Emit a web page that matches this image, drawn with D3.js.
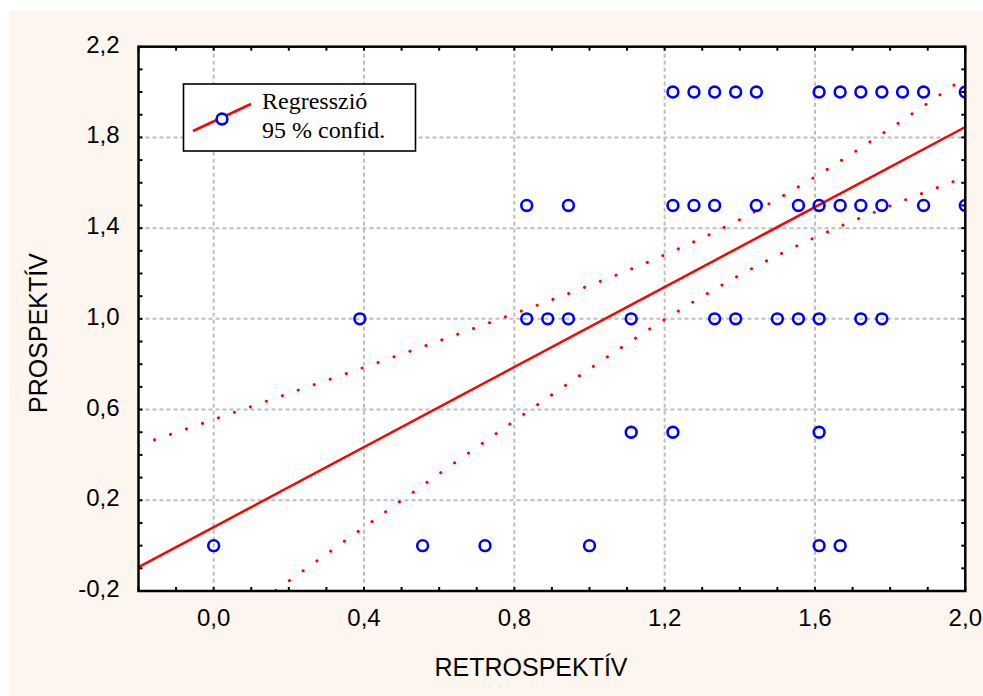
<!DOCTYPE html>
<meta charset="utf-8">

<!-- Load d3.js -->
<script src="https://d3js.org/d3.v7.min.js"></script>

<style>
  body { margin: 0; background: #ffffff; }
</style>

<!-- Create a div where the graph will take place -->
<div id="scatter"></div>

<script>

// points, one row per PROSPEKTÍV value (RETROSPEKTÍV values)
var row20 = [1.222, 1.278, 1.333, 1.389, 1.444, 1.611, 1.667, 1.722, 1.778, 1.833, 1.889, 2.0];
var row15 = [0.833, 0.944, 1.222, 1.278, 1.333, 1.444, 1.556, 1.611, 1.667, 1.722, 1.778, 1.889, 2.0];
var row10 = [0.389, 0.833, 0.889, 0.944, 1.111, 1.333, 1.389, 1.5, 1.556, 1.611, 1.722, 1.778];
var row05 = [1.111, 1.222, 1.611];
var row00 = [0.0, 0.556, 0.722, 1.0, 1.611, 1.667];
var rowValues = [2.0, 1.5, 1.0, 0.5, 0.0];
var rows = [row20, row15, row10, row05, row00];

// regression line and 95 % band
var regX = [-0.2, 2.0];
var regY = [-0.095, 1.846];
var bandX = [-0.2, 0.0, 0.2, 0.4, 0.6, 0.8, 1.0, 1.2, 1.4, 1.6, 1.8, 2.0];
var bandUpper = [0.442, 0.556, 0.671, 0.786, 0.903, 1.023, 1.147, 1.282, 1.438, 1.626, 1.839, 2.065];
var bandLower = [-0.633, -0.394, -0.156, 0.081, 0.317, 0.550, 0.779, 0.997, 1.193, 1.359, 1.498, 1.625];

// axes
var xTicks = [0.0, 0.4, 0.8, 1.2, 1.6, 2.0];
var yTicks = [-0.2, 0.2, 0.6, 1.0, 1.4, 1.8, 2.2];
var legendLabels = ["Regresszió", "95 % confid."];

var fmt = function(d) { return d3.format(".1f")(d).replace(".", ",").replace("−", "-"); };

var W = 983, H = 696;
var margin = {top: 46.7, right: 18, bottom: 105, left: 138.5},
    width = 965.3 - margin.left,
    height = 591 - margin.top;

var svgRoot = d3.select("#scatter")
  .append("svg")
    .attr("width", W)
    .attr("height", H);

// cream page
svgRoot.append("rect")
  .attr("x", 9).attr("y", 11)
  .attr("width", W - 9).attr("height", H - 11)
  .attr("fill", "#fdf6ef");

var svg = svgRoot.append("g")
  .attr("transform", "translate(" + margin.left + "," + margin.top + ")");

var x = d3.scaleLinear().domain([-0.2, 2.0]).range([0, width]);
var y = d3.scaleLinear().domain([-0.2, 2.2]).range([height, 0]);

svg.append("rect")
  .attr("width", width).attr("height", height)
  .attr("fill", "#ffffff");

svg.append("clipPath").attr("id", "plotclip")
  .append("rect").attr("width", width).attr("height", height);

// grid
var grid = svg.append("g")
  .attr("stroke", "#bebebe")
  .attr("stroke-width", 2)
  .attr("stroke-dasharray", "4,3");
grid.selectAll(".gx")
  .data(xTicks.filter(function(d) { return d > -0.2 && d < 2.0; }))
  .enter().append("line")
    .attr("x1", function(d) { return x(d); })
    .attr("x2", function(d) { return x(d); })
    .attr("y1", 0).attr("y2", height);
grid.selectAll(".gy")
  .data(yTicks.filter(function(d) { return d > -0.2 && d < 2.2; }))
  .enter().append("line")
    .attr("y1", function(d) { return y(d); })
    .attr("y2", function(d) { return y(d); })
    .attr("x1", 0).attr("x2", width);

var plot = svg.append("g").attr("clip-path", "url(#plotclip)");

// confidence band
var bandLine = d3.line().curve(d3.curveMonotoneX)
  .x(function(d) { return x(d[0]); })
  .y(function(d) { return y(d[1]); });

[bandUpper, bandLower].forEach(function(b) {
  plot.append("path")
    .datum(bandX.map(function(v, i) { return [v, b[i]]; }))
    .attr("d", bandLine)
    .attr("fill", "none")
    .attr("stroke", "#ff0000")
    .attr("stroke-width", 3)
    .attr("stroke-linecap", "round")
    .attr("stroke-dasharray", "0.1,16.8");
});

// regression line
plot.append("line")
  .attr("x1", x(regX[0])).attr("y1", y(regY[0]))
  .attr("x2", x(regX[1])).attr("y2", y(regY[1]))
  .attr("stroke", "#ff0000")
  .attr("stroke-width", 2.5);

// points
var pts = [];
rows.forEach(function(r, i) {
  r.forEach(function(v) { pts.push({rx: v, py: rowValues[i]}); });
});
plot.selectAll("circle")
  .data(pts)
  .enter().append("circle")
    .attr("cx", function(d) { return x(d.rx); })
    .attr("cy", function(d) { return y(d.py); })
    .attr("r", 5.4)
    .attr("fill", "none")
    .attr("stroke", "#0000ff")
    .attr("stroke-width", 2.6);

// inward ticks on all four sides, every 0.1
var xMinor = d3.range(-2, 21).map(function(i) { return i / 10; });
var yMinor = d3.range(-2, 23).map(function(i) { return i / 10; });
var ticks = svg.append("g").attr("stroke", "#000").attr("stroke-width", 2);
[[0, 4], [height, height - 4]].forEach(function(p) {
  ticks.selectAll(null).data(xMinor).enter().append("line")
    .attr("x1", function(d) { return x(d); }).attr("x2", function(d) { return x(d); })
    .attr("y1", p[0]).attr("y2", p[1]);
});
[[0, 4], [width, width - 4]].forEach(function(p) {
  ticks.selectAll(null).data(yMinor).enter().append("line")
    .attr("y1", function(d) { return y(d); }).attr("y2", function(d) { return y(d); })
    .attr("x1", p[0]).attr("x2", p[1]);
});

// frame
svg.append("rect")
  .attr("width", width).attr("height", height)
  .attr("fill", "none")
  .attr("stroke", "#000")
  .attr("stroke-width", 2.5);

// tick labels
var lab = svg.append("g")
  .attr("font-family", "'Liberation Sans', Arial, sans-serif")
  .attr("font-size", 24)
  .attr("fill", "#000");
lab.selectAll(".xl").data(xTicks).enter().append("text")
  .attr("x", function(d) { return x(d); })
  .attr("y", height + 35)
  .attr("text-anchor", "middle")
  .text(fmt);
lab.selectAll(".yl").data(yTicks).enter().append("text")
  .attr("x", -19)
  .attr("y", function(d) { return y(d) + 6; })
  .attr("text-anchor", "end")
  .text(fmt);

// axis titles
svgRoot.append("text")
  .attr("x", 531).attr("y", 676)
  .attr("text-anchor", "middle")
  .attr("font-family", "'Liberation Sans', Arial, sans-serif")
  .attr("font-size", 25)
  .text("RETROSPEKTÍV");
svgRoot.append("text")
  .attr("transform", "translate(47,333) rotate(-90)")
  .attr("text-anchor", "middle")
  .attr("font-family", "'Liberation Sans', Arial, sans-serif")
  .attr("font-size", 25)
  .text("PROSPEKTÍV");

// legend
var leg = svgRoot.append("g");
leg.append("rect")
  .attr("x", 183.5).attr("y", 84)
  .attr("width", 232).attr("height", 67)
  .attr("fill", "#fff")
  .attr("stroke", "#000")
  .attr("stroke-width", 1.6);
leg.append("line")
  .attr("x1", 193).attr("y1", 131).attr("x2", 251).attr("y2", 104)
  .attr("stroke", "#ff0000").attr("stroke-width", 2.5);
leg.append("circle")
  .attr("cx", 222).attr("cy", 119).attr("r", 5.4)
  .attr("fill", "#fff").attr("stroke", "#0000ff").attr("stroke-width", 2.6);
leg.selectAll("text").data(legendLabels).enter().append("text")
  .attr("x", 262)
  .attr("y", function(d, i) { return 109 + i * 29; })
  .attr("font-family", "'Liberation Serif', 'Times New Roman', serif")
  .attr("font-size", 24)
  .text(function(d) { return d; });

</script>
